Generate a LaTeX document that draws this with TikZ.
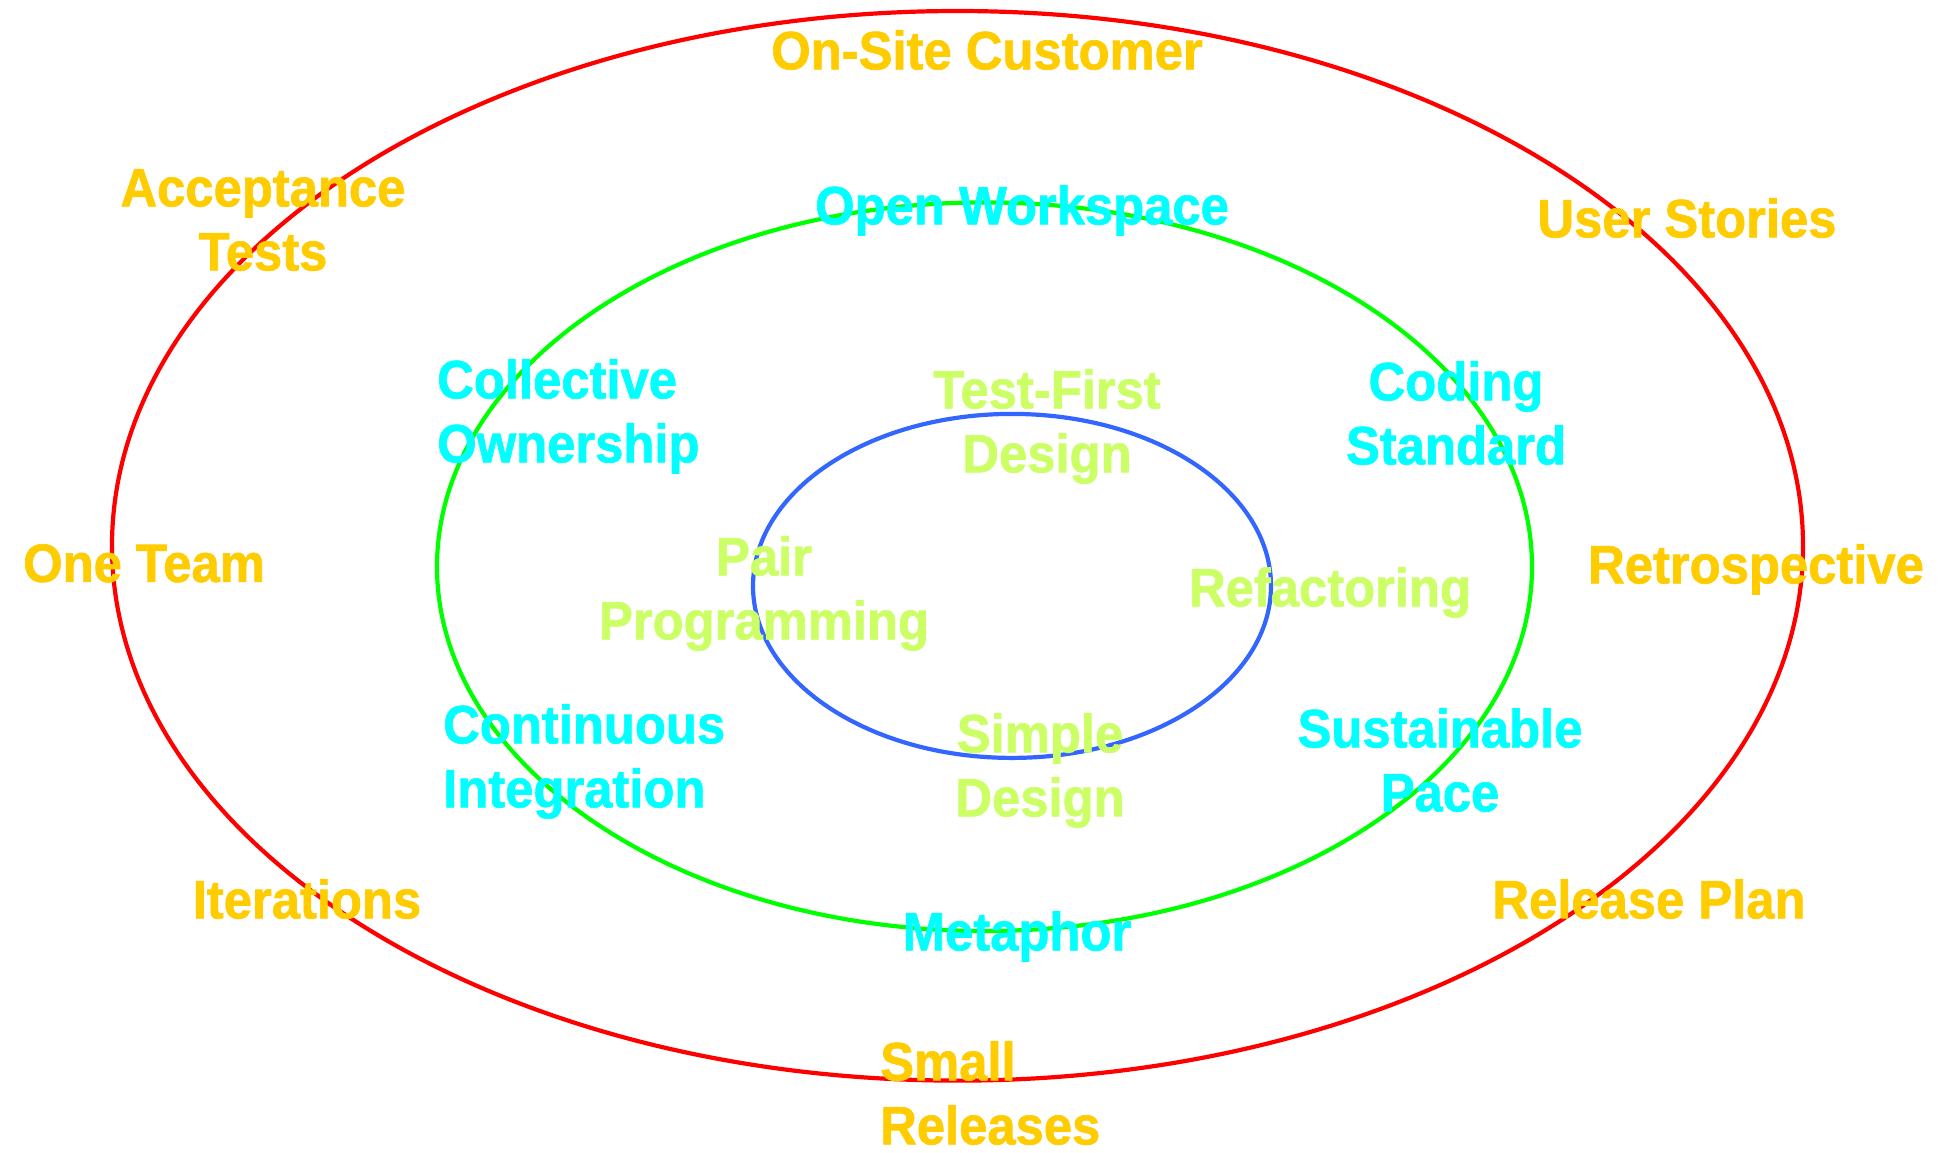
\documentclass[tikz,border=0pt]{standalone}
\usepackage{fontspec}
\setmainfont{Liberation Sans}[FakeStretch=0.94, BoldFeatures={FakeBold=1.2}]
\definecolor{ringred}{HTML}{FF0000}
\definecolor{ringgreen}{HTML}{00FF00}
\definecolor{ringblue}{HTML}{3366FF}
\definecolor{outertxt}{HTML}{FFCC00}
\definecolor{middletxt}{HTML}{00FFFF}
\definecolor{innertxt}{HTML}{CCFF66}
\tikzset{
  ring/.style={line width=4.2pt},
  lbl/.style={inner sep=0pt, anchor=north, align=center,
    font=\fontsize{54}{64}\selectfont\bfseries},
  lbll/.style={lbl, anchor=north west, align=left},
  outer/.style={text=outertxt},
  middle/.style={text=middletxt},
  inner/.style={text=innertxt}
}
\begin{document}
\begin{tikzpicture}[x=1pt,y=-1pt]
\useasboundingbox (0,0) rectangle (1957,1152);
\fill[white] (0,0) rectangle (1957,1152);
% rings
\draw[ring, ringred]   (957.5,545.8) ellipse [x radius=845.5, y radius=534.8];
\draw[ring, ringgreen] (984.5,566.7) ellipse [x radius=547.5, y radius=364.3];
\draw[ring, ringblue]  (1012,585.9)  ellipse [x radius=259,   y radius=172];
% outer practices
\node[lbl, outer]  (onsite)   at (987,30)   {On-Site Customer};
\node[lbl, outer]  (accept)   at (263,169)  {Acceptance\\Tests};
\node[lbl, outer]  (userst)   at (1687,198) {User Stories};
\node[lbl, outer]  (oneteam)  at (144,544)  {One Team};
\node[lbl, outer]  (retro)    at (1756,544) {Retrospective};
\node[lbl, outer]  (iter)     at (307,879)  {Iterations};
\node[lbl, outer]  (relplan)  at (1649,879) {Release Plan};
\node[lbll, outer] (small)    at (880,1041) {Small\\Releases};
% middle practices
\node[lbl, middle]  (openws)   at (1022,185) {Open Workspace};
\node[lbll, middle] (collect)  at (437,359)  {Collective\\Ownership};
\node[lbl, middle]  (coding)   at (1456,361) {Coding\\Standard};
\node[lbll, middle] (contin)   at (443,704)  {Continuous\\Integration};
\node[lbl, middle]  (sustain)  at (1440,708) {Sustainable\\Pace};
\node[lbl, middle]  (metaphor) at (1017,911) {Metaphor};
% inner practices
\node[lbl, inner] (testfirst) at (1047,369) {Test-First\\Design};
\node[lbl, inner] (pair)      at (764,536)  {Pair\\Programming};
\node[lbl, inner] (refact)    at (1330,567) {Refactoring};
\node[lbl, inner] (simple)    at (1040,713) {Simple\\Design};
\end{tikzpicture}
\end{document}
